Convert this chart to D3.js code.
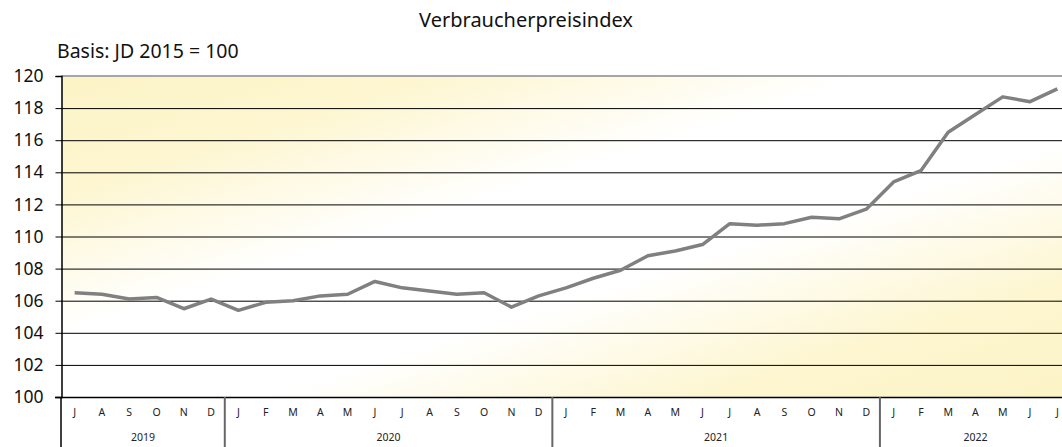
<!DOCTYPE html>
<html lang="de">
<head>
<meta charset="UTF-8">
<title>Verbraucherpreisindex</title>
<style>
    body { margin: 0; background: #fff; }
    svg { display: block; font-family: "Noto Sans", "Open Sans", sans-serif; }
</style>
</head>
<body>
<div id="chart"></div>
<script src="https://cdn.jsdelivr.net/npm/d3@7"></script>
<script>
    // Monate Jul 2019 bis Jul 2022
    const months = ['J','A','S','O','N','D',
        'J','F','M','A','M','J','J','A','S','O','N','D',
        'J','F','M','A','M','J','J','A','S','O','N','D',
        'J','F','M','A','M','J','J'];
    const years = ['2019', '2020', '2021', '2022'];
    const monthsPerYear = [6, 12, 12, 7];
    const values = [106.5, 106.4, 106.1, 106.2, 105.5, 106.1,
        105.4, 105.9, 106.0, 106.3, 106.4, 107.2, 106.8, 106.6, 106.4, 106.5, 105.6, 106.3,
        106.8, 107.4, 107.9, 108.8, 109.1, 109.5, 110.8, 110.7, 110.8, 111.2, 111.1, 111.7,
        113.4, 114.1, 116.5, 117.6, 118.7, 118.4, 119.2];
    const yTicks = [100, 102, 104, 106, 108, 110, 112, 114, 116, 118, 120];

    const width = 1062, height = 447;
    const margin = { top: 76, left: 61, bottom: 50 };
    const plotRight = 1071; // Diagramm rechts abgeschnitten
    const plotBottom = height - margin.bottom; // 397

    const svg = d3.select('#chart').append('svg')
        .attr('width', width)
        .attr('height', height);

    const idx = d3.range(months.length);
    const x = d3.scaleBand().domain(idx).range([margin.left, plotRight]);
    const y = d3.scaleLinear().domain([100, 120]).range([plotBottom, margin.top]);

    // Hintergrundverlauf
    const defs = svg.append('defs');
    const grad = defs.append('linearGradient')
        .attr('id', 'bg')
        .attr('x1', 0).attr('y1', 0).attr('x2', 1).attr('y2', 1);
    [['0%', '#fcf4c6'], ['18%', '#fdf6d0'], ['40%', '#ffffff'],
     ['60%', '#ffffff'], ['82%', '#fdf6d0'], ['100%', '#fcf4c6']].forEach(s => {
        grad.append('stop').attr('offset', s[0]).attr('stop-color', s[1]);
    });

    svg.append('rect')
        .attr('x', margin.left)
        .attr('y', margin.top)
        .attr('width', plotRight - margin.left)
        .attr('height', plotBottom - margin.top)
        .attr('fill', 'url(#bg)');

    // Titel
    svg.append('text')
        .attr('x', 526).attr('y', 27)
        .attr('text-anchor', 'middle')
        .attr('font-size', 20)
        .attr('fill', '#111')
        .text('Verbraucherpreisindex');

    svg.append('text')
        .attr('x', 57).attr('y', 58)
        .attr('font-size', 19.5)
        .attr('fill', '#111')
        .text('Basis: JD 2015 = 100');

    // Gitterlinien
    svg.append('g')
        .selectAll('line')
        .data(yTicks.filter(d => d > 100 && d < 120))
        .join('line')
        .attr('x1', margin.left).attr('x2', plotRight)
        .attr('y1', d => y(d) + 0.5).attr('y2', d => y(d) + 0.5)
        .attr('stroke', '#000')
        .attr('stroke-width', 1);

    // obere Begrenzung
    svg.append('line')
        .attr('x1', margin.left).attr('x2', plotRight)
        .attr('y1', y(120)).attr('y2', y(120))
        .attr('stroke', '#a6a6a6')
        .attr('stroke-width', 2);

    // y-Achse
    const yAxis = svg.append('g')
        .attr('transform', `translate(${margin.left + 0.5},0)`)
        .call(d3.axisLeft(y).tickValues(yTicks).tickSize(6).tickPadding(12));
    yAxis.select('.domain').attr('stroke', '#000').attr('stroke-width', 1.5);
    yAxis.selectAll('.tick line').attr('stroke', '#000');
    yAxis.selectAll('.tick text')
        .attr('font-size', 17.5)
        .attr('font-family', '"Noto Sans", sans-serif')
        .attr('fill', '#111');

    // x-Achse
    svg.append('line')
        .attr('x1', margin.left - 6).attr('x2', plotRight)
        .attr('y1', plotBottom + 0.5).attr('y2', plotBottom + 0.5)
        .attr('stroke', '#000')
        .attr('stroke-width', 1.5);

    svg.append('g')
        .selectAll('text')
        .data(idx)
        .join('text')
        .attr('x', d => x(d) + x.bandwidth() / 2)
        .attr('y', plotBottom + 19)
        .attr('text-anchor', 'middle')
        .attr('font-size', 10.5)
        .attr('fill', '#222')
        .text(d => months[d]);

    // Jahresgruppen
    const starts = [];
    let acc = 0;
    monthsPerYear.forEach(n => { starts.push(acc); acc += n; });

    svg.append('g')
        .selectAll('line')
        .data(starts)
        .join('line')
        .attr('x1', d => x(d)).attr('x2', d => x(d))
        .attr('y1', plotBottom).attr('y2', height)
        .attr('stroke', d => d === 0 ? '#000' : '#666')
        .attr('stroke-width', d => d === 0 ? 1.5 : 2);

    svg.append('g')
        .selectAll('text')
        .data(years)
        .join('text')
        .attr('x', (d, i) => x(starts[i]) + monthsPerYear[i] * x.step() / 2)
        .attr('y', plotBottom + 44)
        .attr('text-anchor', 'middle')
        .attr('font-size', 10.5)
        .attr('fill', '#222')
        .text(d => d);

    // Linie
    const line = d3.line()
        .x((d, i) => x(i) + x.bandwidth() / 2)
        .y(d => y(d));

    svg.append('path')
        .datum(values)
        .attr('d', line)
        .attr('fill', 'none')
        .attr('stroke', '#808080')
        .attr('stroke-width', 3.5)
        .attr('stroke-linejoin', 'round');
</script>
</body>
</html>
